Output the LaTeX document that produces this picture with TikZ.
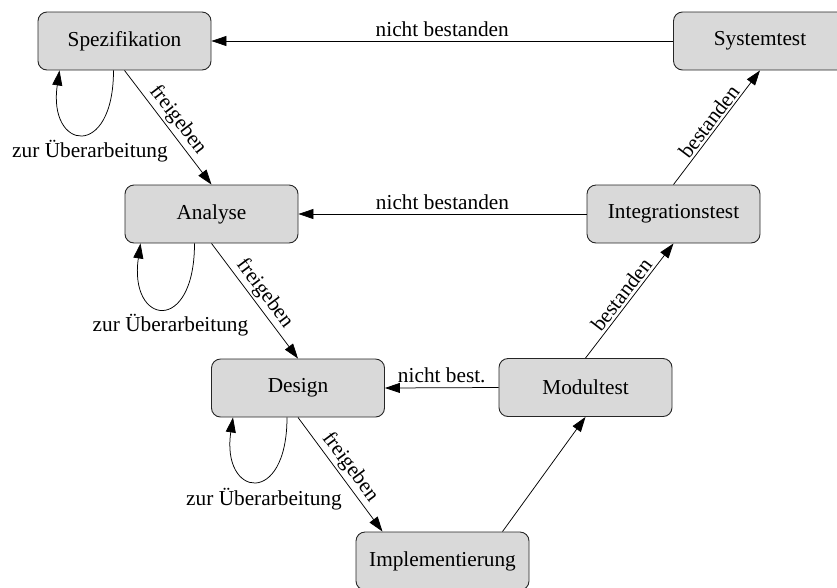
\documentclass[tikz,border=0pt]{standalone}
\usepackage{fontspec}
\setmainfont{Liberation Serif}
\usetikzlibrary{arrows.meta,calc}

\tikzset{
  phase/.style={draw=black!85, line width=0.9pt, fill=black!15, rounded corners=9pt,
    minimum width=173pt, minimum height=58pt, inner sep=0pt},
  flow/.style={line width=0.75pt, -{Triangle[length=15pt,width=10pt]}},
  lbl/.style={inner sep=2pt},
}

\begin{document}
\begin{tikzpicture}[x=1pt, y=-1pt, font=\fontsize{21.3}{25}\selectfont]
  \useasboundingbox (0,0) rectangle (837,587);

  % phases
  \node[phase] (spez)  at (124.5,41)  {Spezifikation};
  \node[phase] (sys)   at (760,41)    {Systemtest};
  \node[phase] (ana)   at (211.5,214) {Analyse};
  \node[phase] (integ) at (673.5,214) {Integrationstest};
  \node[phase] (des)   at (298,388)   {Design};
  \node[phase] (mod)   at (585.5,387.5) {Modultest};
  \node[phase] (impl)  at (442.5,561) {Implementierung};

  % forward transitions
  \draw[flow] (spez.south) -- node[lbl, sloped, above] {freigeben} (ana.north);
  \draw[flow] (ana.south)  -- node[lbl, sloped, above] {freigeben} (des.north);
  \draw[flow] (des.south)  -- node[lbl, sloped, above] {freigeben} ($(impl.north)+(-60,0)$);
  \draw[flow] ($(impl.north)+(60,0)$) -- (mod.south);
  \draw[flow] (mod.north)   -- node[lbl, sloped, above=0.5pt] {bestanden} (integ.south);
  \draw[flow] (integ.north) -- node[lbl, sloped, above] {bestanden} (sys.south);

  % backward transitions
  \draw[flow] (sys.west)   -- node[lbl, above=2pt] {nicht bestanden} (spez.east);
  \draw[flow] (integ.west) -- node[lbl, above=2pt] {nicht bestanden} (ana.east);
  \draw[flow] (mod.west)   -- node[lbl, above=3pt] {nicht best.} (des.east);

  % rework loops
  \draw[flow] ($(spez.south)+(-11,0)$) .. controls +(0,90) and +(-12,80) .. ($(spez.south)+(-65,0)$);
  \draw[flow] ($(ana.south)+(-17,0)$)  .. controls +(0,92) and +(-12,82) .. ($(ana.south)+(-71,0)$);
  \draw[flow] ($(des.south)+(-11,0)$)  .. controls +(0,90) and +(-12,80) .. ($(des.south)+(-65,0)$);

  \node[anchor=base] (lspez) at ($(spez.south)+(-34.5,87)$) {zur Überarbeitung};
  \node[anchor=base] (lana)  at ($(ana.south)+(-41,88.5)$)  {zur Überarbeitung};
  \node[anchor=base] (ldes)  at ($(des.south)+(-34,88)$)    {zur Überarbeitung};
\end{tikzpicture}
\end{document}
